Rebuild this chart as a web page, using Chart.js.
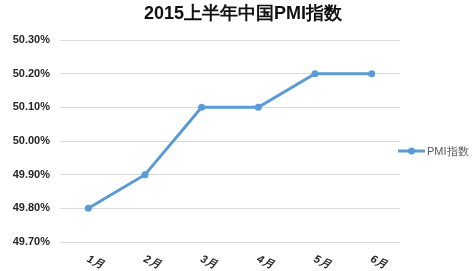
<!DOCTYPE html>
<html>
<head>
<meta charset="utf-8">
<script src="https://cdn.jsdelivr.net/npm/chart.js@4/dist/chart.umd.min.js"></script>
<style>
  html, body { margin: 0; padding: 0; background: #fff; }
  #wrap { width: 473px; height: 271px; }
</style>
</head>
<body>
<div id="wrap"><canvas id="c" width="473" height="271"></canvas></div>
<script>
/* 2015上半年中国PMI指数 — single line series */

const TITLE = "2015上半年中国PMI指数";
const months = ["1月", "2月", "3月", "4月", "5月", "6月"];
const pmi = [49.8, 49.9, 50.1, 50.1, 50.2, 50.2];
const seriesName = "PMI指数";
const yMin = 49.7, yMax = 50.3, yStep = 0.1;

const BLUE = "#5b9bd5";
const FONT = "'Liberation Sans', Arial, sans-serif";

// title, rotated month labels and legend, drawn on top of the library's scales
const extras = {
  id: "extras",
  afterDraw(chart) {
    const ctx = chart.ctx;
    const xs = chart.scales.x;
    ctx.save();

    ctx.fillStyle = "#111";
    ctx.font = "bold 18px " + FONT;
    ctx.textAlign = "center";
    ctx.textBaseline = "middle";
    ctx.fillText(TITLE, 243, 14);

    ctx.font = "bold italic 11px " + FONT;
    ctx.fillStyle = "#262626";
    months.forEach(function (m, i) {
      const x = xs.getPixelForValue(i);
      ctx.save();
      ctx.translate(x + 7, 262);
      ctx.rotate(25 * Math.PI / 180);
      ctx.textAlign = "center";
      ctx.textBaseline = "middle";
      ctx.fillText(m, 0, 0);
      ctx.restore();
    });

    // legend
    const ly = 151;
    ctx.strokeStyle = BLUE;
    ctx.lineWidth = 3;
    ctx.beginPath();
    ctx.moveTo(398, ly);
    ctx.lineTo(425, ly);
    ctx.stroke();
    ctx.fillStyle = BLUE;
    ctx.beginPath();
    ctx.arc(411.5, ly, 3.5, 0, Math.PI * 2);
    ctx.fill();
    ctx.fillStyle = "#595959";
    ctx.font = "11px " + FONT;
    ctx.textAlign = "left";
    ctx.fillText(chart.data.datasets[0].label, 427, ly + 1);

    ctx.restore();
  }
};

new Chart(document.getElementById("c"), {
  type: "line",
  data: {
    labels: months,
    datasets: [{
      label: seriesName,
      data: pmi,
      borderColor: BLUE,
      backgroundColor: BLUE,
      borderWidth: 3,
      pointRadius: 3.5,
      pointBackgroundColor: BLUE,
      pointBorderWidth: 0,
      tension: 0,
      fill: false,
    }]
  },
  options: {
    responsive: false,
    animation: false,
    layout: { padding: { top: 40, right: 73, left: 0, bottom: 0 } },
    plugins: {
      legend: { display: false },
      title: { display: false },
      tooltip: { enabled: false },
    },
    scales: {
      x: {
        offset: true,
        grid: { display: false, drawTicks: false },
        border: { display: false },
        ticks: { display: false },
        afterFit: function (s) { s.height = 29; },
      },
      y: {
        min: yMin,
        max: yMax,
        grid: { color: "#d9d9d9", lineWidth: 1, drawTicks: false },
        border: { display: false },
        ticks: {
          stepSize: yStep,
          padding: 10,
          color: "#262626",
          font: { family: FONT, size: 11, weight: "bold" },
          callback: function (v) { return v.toFixed(2) + "%"; },
        },
        afterFit: function (s) { s.width = 60; },
      },
    },
  },
  plugins: [extras],
});
</script>
</body>
</html>
